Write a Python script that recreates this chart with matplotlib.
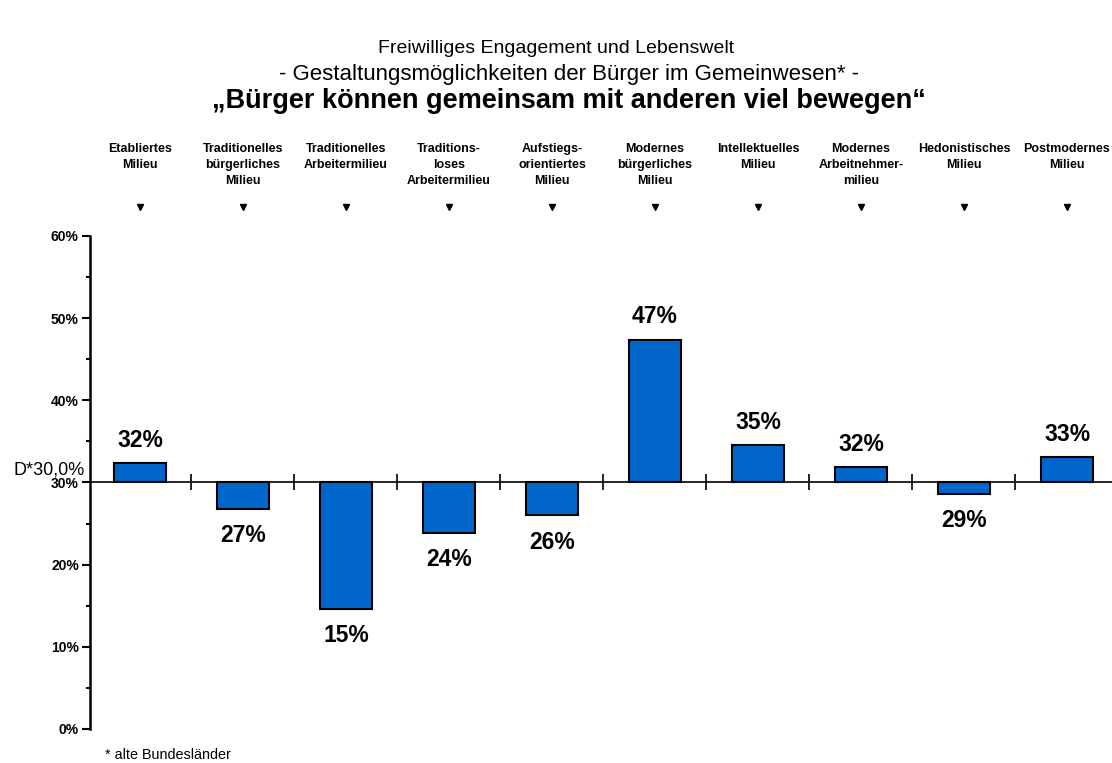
import numpy as np
import matplotlib.pyplot as plt
from matplotlib.ticker import MultipleLocator, FixedLocator, NullFormatter

# milieu groups and share agreeing (in %)
milieus = [
    "Etabliertes\nMilieu",
    "Traditionelles\nbürgerliches\nMilieu",
    "Traditionelles\nArbeitermilieu",
    "Traditions-\nloses\nArbeitermilieu",
    "Aufstiegs-\norientiertes\nMilieu",
    "Modernes\nbürgerliches\nMilieu",
    "Intellektuelles\nMilieu",
    "Modernes\nArbeitnehmer-\nmilieu",
    "Hedonistisches\nMilieu",
    "Postmodernes\nMilieu",
]
values = [32.4, 26.8, 14.6, 23.9, 26.0, 47.4, 34.6, 31.9, 28.6, 33.1]
average = 30.0
yticks = [0, 10, 20, 30, 40, 50, 60]

plt.rcParams['font.family'] = ['Liberation Sans', 'DejaVu Sans']

fig = plt.figure(figsize=(11.12, 7.63), dpi=100)
ax = fig.add_axes([0.0809, 0.0446, 0.9191, 0.6461])

x = np.arange(len(values))
heights = [v - average for v in values]
ax.bar(x, heights, bottom=average, width=0.5, color='#0066cc',
       edgecolor='black', linewidth=1.5, zorder=2)

ax.set_xlim(-0.485, 9.437)
ax.set_ylim(0, 60)

# spines: y axis on the left, x axis through the average
for s in ['top', 'right']:
    ax.spines[s].set_visible(False)
ax.spines['bottom'].set_position(('data', average))
ax.spines['bottom'].set_linewidth(1.2)
ax.spines['left'].set_linewidth(1.8)
ax.spines['bottom'].set_zorder(3)

ax.set_yticks(yticks)
ax.set_yticklabels([f"{t}%" for t in yticks], fontsize=10, fontweight='bold')
ax.yaxis.set_minor_locator(MultipleLocator(5))
ax.tick_params(axis='y', which='major', length=6, width=1.5, pad=2)
ax.tick_params(axis='y', which='minor', length=3, width=1.5)

ax.xaxis.set_major_locator(FixedLocator([]))
ax.xaxis.set_minor_locator(FixedLocator(x[:-1] + 0.5))
ax.xaxis.set_minor_formatter(NullFormatter())
ax.tick_params(axis='x', which='minor', direction='inout', length=12, width=1.2)

# value labels
for xi, v in zip(x, values):
    if v >= average:
        ax.annotate(f"{v:.0f}%", (xi, v), xytext=(0, 8), textcoords='offset points',
                    ha='center', va='bottom', fontsize=16.5, fontweight='bold')
    else:
        ax.annotate(f"{v:.0f}%", (xi, v), xytext=(0, -11), textcoords='offset points',
                    ha='center', va='top', fontsize=16.5, fontweight='bold')

# reference value next to the axis
ax.annotate(f"D*{average:.1f}%".replace('.', ','), (0, average),
            xycoords=('axes fraction', 'data'), xytext=(-4, 6),
            textcoords='offset points', ha='right', va='baseline', fontsize=13)

# milieu names with small markers above the plot
for xi, name in zip(x, milieus):
    ax.annotate(name, (xi, 1), xycoords=('data', 'axes fraction'),
                xytext=(0, 67), textcoords='offset points', ha='center', va='top',
                fontsize=9, fontweight='bold', linespacing=1.45)
ax.plot(x, [1.059] * len(x), 'v', color='black', markersize=4,
        transform=ax.get_xaxis_transform(), clip_on=False)

fig.text(0.5, 0.937, "Freiwilliges Engagement und Lebenswelt", ha='center', va='center', fontsize=14)
fig.text(0.512, 0.902, "- Gestaltungsmöglichkeiten der Bürger im Gemeinwesen* -",
         ha='center', va='center', fontsize=16)
fig.text(0.512, 0.867, "„Bürger können gemeinsam mit anderen viel bewegen“",
         ha='center', va='center', fontsize=19.5, fontweight='bold')
fig.text(0.094, 0.011, "* alte Bundesländer", ha='left', va='center', fontsize=10.4)

fig.savefig("out.png", dpi=100)
